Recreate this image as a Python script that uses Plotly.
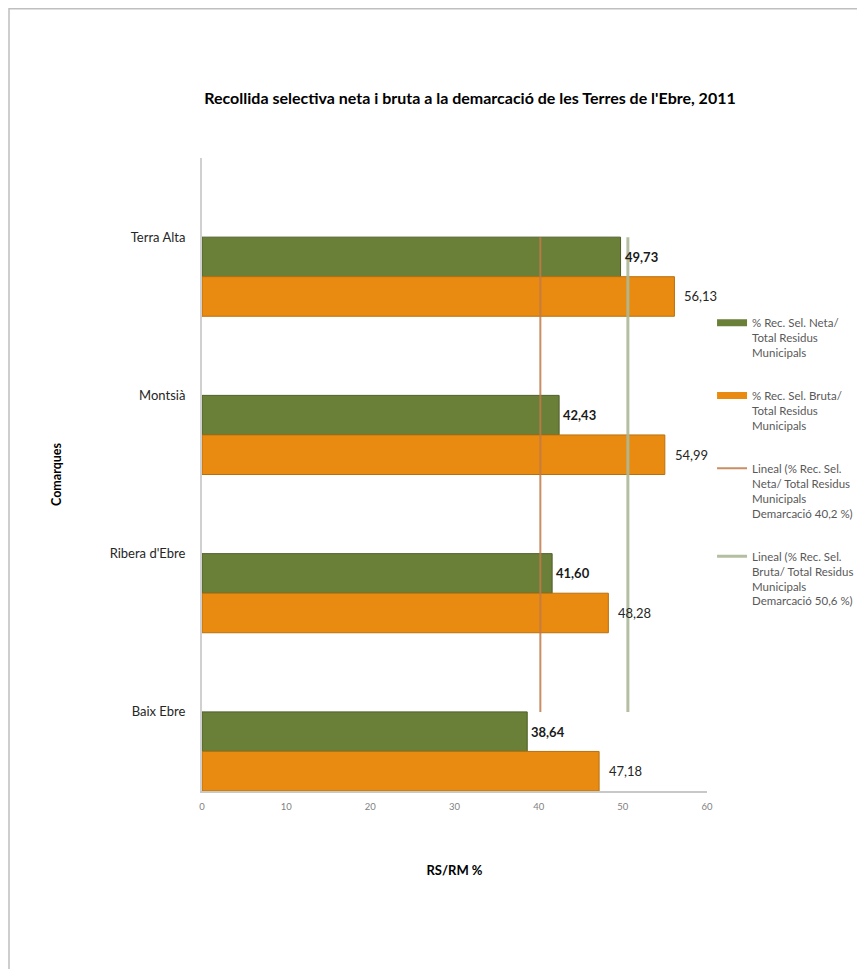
import plotly.graph_objects as go

categories = ["Terra Alta", "Montsià", "Ribera d'Ebre", "Baix Ebre"]
neta = [49.73, 42.43, 41.60, 38.64]
bruta = [56.13, 54.99, 48.28, 47.18]
neta_demarcacio = 40.2
bruta_demarcacio = 50.6
x_ticks = [0, 10, 20, 30, 40, 50, 60]

names = [
    "% Rec. Sel. Neta/<br>Total Residus<br>Municipals",
    "% Rec. Sel. Bruta/<br>Total Residus<br>Municipals",
    "Lineal (% Rec. Sel.<br>Neta/ Total Residus<br>Municipals<br>Demarcació 40,2 %)",
    "Lineal (% Rec. Sel.<br>Bruta/ Total Residus<br>Municipals<br>Demarcació 50,6 %)",
]

FONT = "Lato, 'Open Sans', sans-serif"
BAR_W = 0.25
GREEN = "#6a7f38"
ORANGE = "#e98b10"

def fmt(v):
    return f"{v:.2f}".replace(".", ",")

fig = go.Figure()
fig.add_trace(go.Bar(
    y=categories, x=neta, orientation="h", name=names[0],
    offset=0, width=BAR_W,
    marker=dict(color=GREEN, line=dict(color="#4e5f28", width=1)),
    legendgroup="a", showlegend=False,
))
fig.add_trace(go.Bar(
    y=categories, x=bruta, orientation="h", name=names[1],
    offset=BAR_W, width=BAR_W,
    marker=dict(color=ORANGE, line=dict(color="#b8700e", width=1)),
    legendgroup="b", showlegend=False,
))
fig.add_trace(go.Scatter(
    y=categories, x=[neta_demarcacio] * len(categories), mode="lines",
    name=names[2], line=dict(color="rgba(192,122,72,0.85)", width=2),
    legendgroup="c", legendrank=3,
))
fig.add_trace(go.Scatter(
    y=categories, x=[bruta_demarcacio] * len(categories), mode="lines",
    name=names[3], line=dict(color="rgba(172,184,152,0.9)", width=3),
    legendgroup="d", legendrank=4,
))
# legend-only entries drawn as wide swatches like the original
fig.add_trace(go.Scatter(
    x=[None], y=[None], mode="lines", name=names[0],
    line=dict(color=GREEN, width=7), legendgroup="a", legendrank=1,
))
fig.add_trace(go.Scatter(
    x=[None], y=[None], mode="lines", name=names[1],
    line=dict(color=ORANGE, width=7), legendgroup="b", legendrank=2,
))

annotations = []
for i, v in enumerate(neta):
    annotations.append(dict(x=v, y=i + BAR_W / 2, text=fmt(v), showarrow=False,
                            xanchor="left", yanchor="middle", xshift=2,
                            yref="y", xref="x",
                            font=dict(family=FONT, size=13, color="#1a1a1a", weight="bold")))
for i, v in enumerate(bruta):
    annotations.append(dict(x=v, y=i + BAR_W * 1.5, text=fmt(v), showarrow=False,
                            xanchor="left", yanchor="middle", xshift=8,
                            yref="y", xref="x",
                            font=dict(family=FONT, size=13, color="#262626")))

fig.update_layout(
    width=857, height=961,
    margin=dict(l=194, r=158, t=150, b=178, autoexpand=False),
    paper_bgcolor="white", plot_bgcolor="white",
    barmode="overlay",
    font=dict(family=FONT, size=11, color="#404040"),
    title=dict(text="<b>Recollida selectiva neta i bruta a la demarcació de les Terres de l'Ebre, 2011</b>",
               x=462 / 857, xanchor="center", y=1 - 90 / 961, yanchor="middle",
               font=dict(family=FONT, size=16, color="#000000")),
    xaxis=dict(range=[0, 60], tickvals=x_ticks, showgrid=False, zeroline=False,
               showline=True, linecolor="#c8c8c8", linewidth=1.5,
               tickfont=dict(family=FONT, size=9.5, color="#7f7f7f"),
               ticks="", ticklabelstandoff=6,
               title=dict(text="<b>RS/RM %</b>", standoff=55,
                          font=dict(family=FONT, size=13, color="#000000"))),
    yaxis=dict(categoryorder="array", categoryarray=categories,
               range=[3.5, -0.5], showgrid=False, zeroline=False,
               showline=True, linecolor="#d0d0d0", linewidth=2,
               tickfont=dict(family=FONT, size=13, color="#262626"),
               ticks="", ticklabelstandoff=12,
               title=dict(text="<b>Comarques</b>", standoff=45,
                          font=dict(family=FONT, size=12.5, color="#000000"))),
    showlegend=True,
    legend=dict(x=1.01, xanchor="left", y=0.762, yanchor="top",
                font=dict(family=FONT, size=11.5, color="#595959"),
                tracegroupgap=25, valign="top", bgcolor="rgba(0,0,0,0)",
                traceorder="grouped"),
    annotations=annotations,
    shapes=[dict(type="rect", xref="paper", yref="paper",
                 x0=(1 - 194) / 505, x1=1.4, y0=-0.4, y1=(783 - 0.75) / 633,
                 line=dict(color="#bfbfbf", width=1.5), layer="below")],
)

fig.write_html("out.html")
